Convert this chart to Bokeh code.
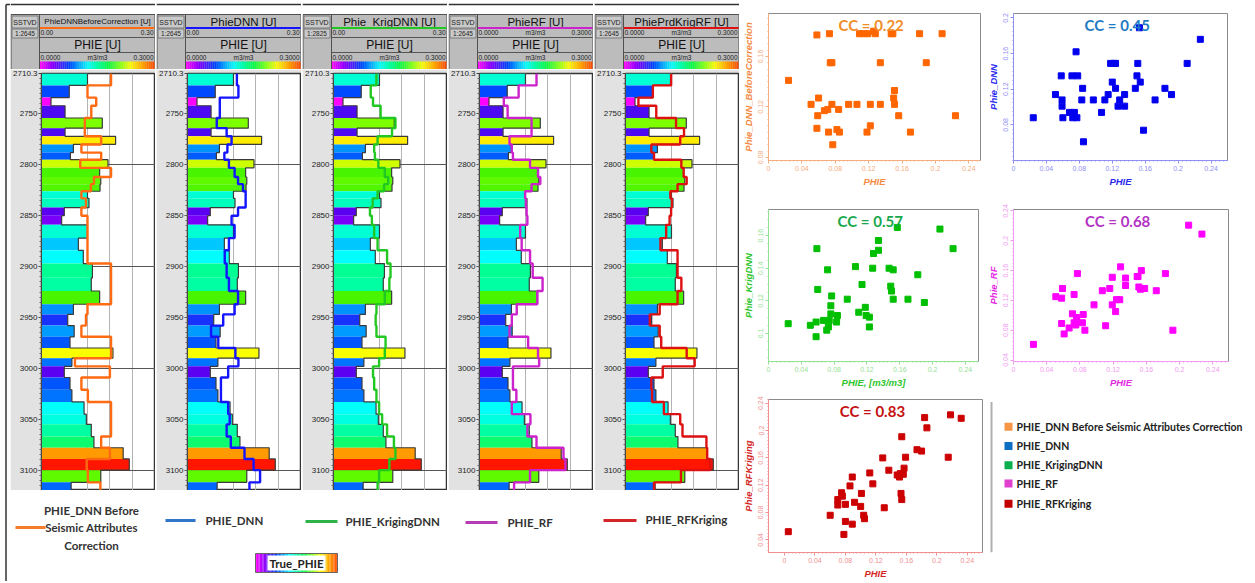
import numpy as np
from bokeh.plotting import figure
from bokeh.layouts import row, column
from bokeh.models import (Range1d, FixedTicker, LinearColorMapper, ColumnDataSource,
                          PrintfTickFormatter, Label)
from bokeh.core.properties import value
from bokeh.embed import file_html
from bokeh.resources import INLINE

# ------------------------------------------------------------------ data
depth_bounds = [2710.3, 2722, 2734, 2742, 2754, 2764, 2772, 2780, 2788, 2795, 2803,
                2812, 2819, 2826, 2833, 2842, 2850, 2859, 2872, 2884, 2897, 2911,
                2924, 2937, 2947, 2958, 2969, 2980, 2990, 2998, 3009, 3021, 3033,
                3045, 3055, 3067, 3078, 3089, 3100, 3112, 3120]
depth_ticks = [2710.3, 2750, 2800, 2850, 2900, 2950, 3000, 3050, 3100]

true_phie = [0.121, 0.073, 0.025, 0.062, 0.160, 0.062, 0.195, 0.084, 0.076, 0.175,
             0.153, 0.156, 0.154, 0.121, 0.125, 0.060, 0.053, 0.121, 0.097, 0.110,
             0.134, 0.131, 0.153, 0.084, 0.069, 0.086, 0.075, 0.188, 0.080, 0.060,
             0.075, 0.080, 0.112, 0.118, 0.131, 0.138, 0.215, 0.231, 0.156, 0.078]
phie_dnn_before = [0.183, 0.121, 0.144, 0.131, 0.114, 0.114, 0.157, 0.105, 0.157, 0.102,
                   0.183, 0.138, 0.130, 0.105, 0.117, 0.105, 0.121, 0.121, 0.121, 0.121,
                   0.183, 0.183, 0.183, 0.121, 0.117, 0.105, 0.183, 0.183, 0.088, 0.180,
                   0.105, 0.122, 0.183, 0.183, 0.183, 0.157, 0.180, 0.119, 0.122, 0.155]
phie_dnn = [0.130, 0.134, 0.085, 0.085, 0.077, 0.103, 0.116, 0.105, 0.097, 0.109,
            0.124, 0.133, 0.146, 0.153, 0.153, 0.133, 0.116, 0.124, 0.109, 0.098,
            0.103, 0.109, 0.133, 0.124, 0.094, 0.062, 0.081, 0.126, 0.134, 0.107,
            0.088, 0.088, 0.107, 0.111, 0.103, 0.114, 0.150, 0.174, 0.191, 0.163]
phie_krig_dnn = [0.113, 0.098, 0.104, 0.124, 0.163, 0.154, 0.116, 0.107, 0.109, 0.118,
                 0.135, 0.144, 0.133, 0.116, 0.103, 0.096, 0.101, 0.107, 0.116, 0.141,
                 0.150, 0.147, 0.135, 0.113, 0.111, 0.113, 0.137, 0.135, 0.120, 0.104,
                 0.107, 0.113, 0.120, 0.128, 0.141, 0.159, 0.163, 0.147, 0.120, 0.116]
phie_rf = [0.150, 0.103, 0.064, 0.074, 0.137, 0.137, 0.079, 0.085, 0.088, 0.133,
           0.154, 0.160, 0.137, 0.120, 0.122, 0.124, 0.126, 0.107, 0.111, 0.133,
           0.140, 0.166, 0.152, 0.098, 0.085, 0.079, 0.128, 0.154, 0.157, 0.088,
           0.088, 0.097, 0.085, 0.134, 0.126, 0.150, 0.221, 0.226, 0.133, 0.091]
phie_rf_krig = [0.120, 0.072, 0.034, 0.081, 0.133, 0.154, 0.144, 0.068, 0.075, 0.147,
                0.153, 0.161, 0.137, 0.118, 0.122, 0.120, 0.116, 0.107, 0.092, 0.137,
                0.137, 0.147, 0.137, 0.090, 0.064, 0.090, 0.094, 0.161, 0.182, 0.098,
                0.068, 0.070, 0.101, 0.144, 0.150, 0.213, 0.215, 0.223, 0.146, 0.075]

track_titles = ["PhieDNNBeforeCorrection [U]", "PhieDNN [U]", "Phie_KrigDNN [U]",
                "PhieRF [U]", "PhiePrdKrigRF [U]"]
track_scales = ["1:2645", "1:2645", "1:2825", "1:2645", "1:2645"]
track_lo = ["0.00", "0.00", "0.00", "0.0000", "0.0000"]
track_hi = ["0.30", "0.30", "0.30", "0.3000", "0.3000"]

s1_x = [0.126, 0.128, 0.109, 0.114, 0.119, 0.073, 0.058, 0.147, 0.149, 0.181, 0.208,
        0.074, 0.076, 0.134, 0.189, 0.024, 0.151, 0.060, 0.150,
        0.051, 0.076, 0.096, 0.106, 0.122, 0.134, 0.151, 0.067, 0.071, 0.084,
        0.059, 0.156, 0.224, 0.122, 0.058, 0.072, 0.082, 0.085, 0.118, 0.170, 0.077]
s1_y = [0.180, 0.178, 0.178, 0.178, 0.178, 0.178, 0.177, 0.178, 0.178, 0.178, 0.178,
        0.155, 0.155, 0.155, 0.155, 0.141, 0.133, 0.127, 0.127,
        0.122, 0.122, 0.122, 0.122, 0.122, 0.122, 0.122, 0.117, 0.118, 0.118,
        0.113, 0.113, 0.113, 0.105, 0.103, 0.100, 0.102, 0.100, 0.100, 0.100, 0.090]
s2_x = [0.153, 0.227, 0.076, 0.118, 0.122, 0.124, 0.151, 0.211, 0.058, 0.071, 0.078, 0.150,
        0.120, 0.154, 0.084, 0.124, 0.148, 0.184, 0.051, 0.115, 0.135, 0.192,
        0.059, 0.083, 0.097, 0.111, 0.129, 0.172, 0.059, 0.127, 0.135,
        0.068, 0.074, 0.107, 0.024, 0.060, 0.072, 0.077, 0.158, 0.085]
s2_y = [0.189, 0.176, 0.162, 0.149, 0.149, 0.149, 0.149, 0.149, 0.135, 0.135, 0.135, 0.135,
        0.128, 0.128, 0.121, 0.121, 0.121, 0.121, 0.114, 0.114, 0.114, 0.114,
        0.108, 0.108, 0.108, 0.108, 0.108, 0.108, 0.101, 0.101, 0.101,
        0.094, 0.094, 0.094, 0.088, 0.088, 0.088, 0.088, 0.074, 0.061]
s3_x = [0.157, 0.209, 0.059, 0.225, 0.134, 0.134, 0.128, 0.106, 0.127, 0.147, 0.152, 0.072,
        0.182, 0.060, 0.114, 0.149, 0.150, 0.077, 0.096, 0.152, 0.170, 0.190, 0.076,
        0.118, 0.110, 0.076, 0.119, 0.123, 0.084, 0.024, 0.051, 0.058, 0.067, 0.074,
        0.083, 0.073, 0.071, 0.123, 0.058]
s3_y = [0.165, 0.164, 0.152, 0.152, 0.157, 0.151, 0.149, 0.141, 0.140, 0.140, 0.139, 0.139,
        0.136, 0.127, 0.130, 0.129, 0.126, 0.123, 0.121, 0.121, 0.121, 0.119, 0.117,
        0.116, 0.113, 0.112, 0.111, 0.110, 0.111, 0.106, 0.105, 0.107, 0.108, 0.108,
        0.107, 0.104, 0.102, 0.104, 0.098]
s4_x = [0.211, 0.227, 0.129, 0.154, 0.077, 0.183, 0.119, 0.149, 0.150, 0.135, 0.135, 0.151,
        0.153, 0.158, 0.172, 0.107, 0.116, 0.059, 0.051, 0.058, 0.073, 0.124, 0.128,
        0.097, 0.119, 0.123, 0.071, 0.084, 0.076, 0.076, 0.076, 0.058, 0.073, 0.083,
        0.075, 0.067, 0.111, 0.086, 0.192, 0.061, 0.024]
s4_y = [0.221, 0.209, 0.165, 0.160, 0.156, 0.156, 0.151, 0.152, 0.152, 0.150, 0.140, 0.138,
        0.135, 0.136, 0.133, 0.133, 0.136, 0.136, 0.125, 0.123, 0.128, 0.121, 0.121,
        0.114, 0.114, 0.105, 0.102, 0.101, 0.097, 0.094, 0.091, 0.089, 0.090, 0.090,
        0.087, 0.083, 0.086, 0.080, 0.080, 0.075, 0.061]
s5_x = [0.005, 0.060, 0.078, 0.080, 0.089, 0.104, 0.105, 0.100, 0.131, 0.070, 0.080, 0.092,
        0.070, 0.076, 0.075, 0.101, 0.153, 0.154, 0.086, 0.089, 0.116, 0.112, 0.137,
        0.148, 0.151, 0.152, 0.156, 0.157, 0.129, 0.159, 0.174, 0.180, 0.154, 0.184,
        0.187, 0.218, 0.232, 0.215]
s5_y = [0.052, 0.076, 0.048, 0.067, 0.063, 0.076, 0.071, 0.089, 0.087, 0.091, 0.092, 0.095,
        0.099, 0.104, 0.109, 0.108, 0.108, 0.099, 0.119, 0.132, 0.122, 0.138, 0.142,
        0.135, 0.132, 0.137, 0.136, 0.145, 0.160, 0.161, 0.172, 0.170, 0.191, 0.219,
        0.204, 0.223, 0.218, 0.161]
cc_texts = ["CC = 0.22", "CC = 0.45", "CC = 0.57", "CC = 0.68", "CC = 0.83"]
scatter_ylabels = ["Phie_DNN_BeforeCorrection", "Phie_DNN", "Phie_KrigDNN", "Phie_RF",
                   "Phie_RFKriging"]
scatter_xlabels = ["PHIE", "PHIE", "PHIE, [m3/m3]", "PHIE", "PHIE"]
x_ticks = [0, 0.04, 0.08, 0.12, 0.16, 0.2, 0.24]

legend_names = ["PHIE_DNN Before Seismic Attributes Correction", "PHIE_DNN",
                "PHIE_KrigingDNN", "PHIE_RF", "PHIE_RFKriging"]

# ------------------------------------------------------------------ styles
ARIAL = value("Liberation Sans")
CAL = value("Lato")


def interp_palette(stops, n):
    sv = [s[0] for s in stops]
    rgb = np.array([[int(c[1:3], 16), int(c[3:5], 16), int(c[5:7], 16)] for _, c in stops], float)
    vals = np.linspace(sv[0], sv[-1], n)
    out = []
    for v in vals:
        r, g, b = (np.interp(v, sv, rgb[:, k]) for k in range(3))
        out.append("#%02x%02x%02x" % (int(round(r)), int(round(g)), int(round(b))))
    return out


bar_palette = interp_palette([(0.0, "#ff00ff"), (0.03, "#ff00ff"), (0.048, "#9000ff"),
                              (0.060, "#5a00f0"), (0.072, "#0046ff"), (0.085, "#0096ff"),
                              (0.100, "#00d4ff"), (0.110, "#00ffff"), (0.121, "#00ffd2"),
                              (0.134, "#00ff96"), (0.150, "#30f000"), (0.160, "#80ff00"),
                              (0.175, "#ccff00"), (0.190, "#ffff00"), (0.215, "#ffa000"),
                              (0.232, "#ff1000"), (0.25, "#ff0000")], 256)
bar_mapper = LinearColorMapper(palette=bar_palette, low=0.0, high=0.25)
strip_palette = interp_palette([(0.0, "#ff00ff"), (0.12, "#8000ff"), (0.25, "#0040ff"),
                                (0.42, "#00ffff"), (0.6, "#00ff40"), (0.8, "#ffff00"),
                                (1.0, "#ff5000")], 60)

curve_colors = ["#ff6a13", "#1414ff", "#22c822", "#cc22cc", "#dd1111"]
curves = [phie_dnn_before, phie_dnn, phie_krig_dnn, phie_rf, phie_rf_krig]

TW = 145      # track width
DW = 29       # depth column width
HH = 69       # header height
TH = 421      # track figure height (4px top border + 417 frame)


def bare(w, h):
    f = figure(width=w, height=h, x_range=Range1d(0, w), y_range=Range1d(h, 0),
               output_backend="svg", toolbar_location=None, min_border=0,
               x_axis_location=None, y_axis_location=None)
    f.grid.visible = False
    f.outline_line_color = None
    f.background_fill_color = "white"
    f.border_fill_color = "white"
    return f


def step_path(vals):
    xs, ys = [], []
    for i, v in enumerate(vals):
        xs += [v, v]
        ys += [depth_bounds[i], depth_bounds[i + 1]]
    return xs, ys


def header(i):
    h = bare(TW, HH)
    h.segment(x0=[0], y0=[4], x1=[TW], y1=[4], line_color="#333333", line_width=1.5)
    h.quad(left=0.5, right=TW - 0.5, top=14, bottom=HH, fill_color="#bcbcbc", line_color="#505050")
    h.quad(left=[1.5, 1.5], right=[DW - 1.5] * 2, top=[15.5, 28.5], bottom=[27.5, 37.5],
           fill_color="#c9c9c9", line_color="#7a7a7a")
    h.text(x=[DW / 2], y=[21.5], text=["SSTVD"], text_font=ARIAL, text_font_size="7px",
           text_align="center", text_baseline="middle", text_color="#222")
    h.text(x=[DW / 2], y=[33], text=[track_scales[i]], text_font=ARIAL, text_font_size="6.5px",
           text_align="center", text_baseline="middle", text_color="#222")
    mid = (DW + TW) / 2
    fs = "8px" if i == 0 else "11.5px"
    h.text(x=[mid], y=[21], text=[track_titles[i]], text_font=ARIAL, text_font_size=fs,
           text_align="center", text_baseline="middle", text_color="#111")
    h.segment(x0=[DW], y0=[27.5], x1=[TW - 1], y1=[27.5], line_color=curve_colors[i], line_width=2)
    h.text(x=[DW + 1], y=[32], text=[track_lo[i]], text_font=ARIAL, text_font_size="6.5px",
           text_align="left", text_baseline="middle", text_color="#222")
    h.text(x=[TW - 2], y=[32], text=[track_hi[i]], text_font=ARIAL, text_font_size="6.5px",
           text_align="right", text_baseline="middle", text_color="#222")
    if i >= 3:
        h.text(x=[mid], y=[32], text=["m3/m3"], text_font=ARIAL, text_font_size="6.5px",
               text_align="center", text_baseline="middle", text_color="#222")
    h.segment(x0=[DW, DW], y0=[37, 52], x1=[TW - 1, TW - 1], y1=[37, 52],
              line_color="#555", line_width=1)
    h.text(x=[mid], y=[44.5], text=["PHIE [U]"], text_font=ARIAL, text_font_size="12px",
           text_align="center", text_baseline="middle", text_color="#111")
    h.text(x=[DW + 1, mid, TW - 2], y=[56.5] * 3, text=["0.0000", "m3/m3", "0.3000"],
           text_font=ARIAL, text_font_size="6.5px", text_align=["left", "center", "right"],
           text_baseline="middle", text_color="#222")
    n = len(strip_palette)
    edges = np.linspace(DW, TW - 1, n + 1)
    h.quad(left=edges[:-1], right=edges[1:], top=[61] * n, bottom=[HH] * n,
           fill_color=strip_palette, line_color=None)
    h.segment(x0=[DW], y0=[14], x1=[DW], y1=[HH], line_color="#505050")
    return h


def track(i):
    p = figure(width=TW, height=TH, x_range=Range1d(0, 0.3), y_range=Range1d(3120, 2710.3),
               output_backend="svg", toolbar_location=None, x_axis_location=None,
               min_border_left=DW, min_border_right=0, min_border_top=4, min_border_bottom=0)
    p.border_fill_color = "#e2e2e2"
    p.background_fill_color = "white"
    p.outline_line_color = "#353535"
    p.outline_line_width = 1.5
    p.xgrid.ticker = FixedTicker(ticks=[0.12, 0.18, 0.24])
    p.xgrid.grid_line_color = "#b4b4b4"
    p.ygrid.ticker = FixedTicker(ticks=[2800, 2900, 3000, 3100])
    p.ygrid.grid_line_color = "#555555"
    ax = p.yaxis[0]
    ax.ticker = FixedTicker(ticks=depth_ticks, minor_ticks=list(np.arange(2715, 3120, 5)))
    ax.formatter = PrintfTickFormatter(format="%g")
    ax.major_label_text_font = "Liberation Sans"
    ax.major_label_text_font_size = "8px"
    ax.major_label_text_color = "#222"
    ax.major_label_standoff = 1
    ax.major_tick_in = 0
    ax.major_tick_out = 3
    ax.minor_tick_in = 0
    ax.minor_tick_out = 2
    ax.axis_line_color = "#444"
    ax.major_tick_line_color = "#444"
    ax.minor_tick_line_color = "#666"
    src = ColumnDataSource(dict(v=true_phie, top=depth_bounds[:-1], bot=depth_bounds[1:]))
    p.quad(left=0, right="v", top="top", bottom="bot", source=src,
           fill_color={"field": "v", "transform": bar_mapper}, line_color=None)
    ox, oy = step_path(true_phie)
    p.line(ox, oy, line_color="#3a3a3a", line_width=1.2)
    cx, cy = step_path(curves[i])
    p.line(cx, cy, line_color=curve_colors[i], line_width=2.4)
    return p


track_cols = [column(row(header(i)), row(track(i)), spacing=0) for i in range(5)]

# outer left border strip
strip = bare(10, 581)
strip.segment(x0=[5.5, 5.5], y0=[4, 4], x1=[5.5, 10], y1=[581, 4], line_color="#333333",
              line_width=1.5)

# bottom legend (local coords: x - 10, y - 490)
LGW = 5 * TW + 4
lg = bare(LGW, 91)
leg_line_cols = ["#f57c2a", "#2f75c8", "#2db34a", "#b63cb6", "#d2262a"]
lg.segment(x0=[5, 155, 295, 455, 593], y0=[37, 30, 31, 32, 30],
           x1=[35, 185, 327, 487, 626], y1=[37, 30, 31, 32, 30],
           line_color=leg_line_cols, line_width=3)
lg.text(x=[81, 81, 81], y=[20, 37, 55], text=["PHIE_DNN Before", "Seismic Attributes", "Correction"],
        text_font=CAL, text_font_size="11.5px", text_font_style="bold", text_align="center",
        text_baseline="middle", text_color="#333")
lg.text(x=[195, 335, 497, 635], y=[30, 31, 32, 29], text=legend_names[1:],
        text_font=CAL, text_font_size="11.5px", text_font_style="bold", text_align="left",
        text_baseline="middle", text_color="#333")
n = len(strip_palette)
edges = np.linspace(245, 327, n + 1)
lg.quad(left=edges[:-1], right=edges[1:], top=[63] * n, bottom=[82] * n,
        fill_color=strip_palette, line_color=None)
lg.quad(left=[245], right=[327], top=[63], bottom=[82], fill_color=None, line_color="#666")
lg.quad(left=[257], right=[315], top=[65], bottom=[80], fill_color="white", line_color=None)
lg.text(x=[286], y=[72.5], text=["True_PHIE"], text_font=CAL, text_font_size="11.5px",
        text_font_style="bold", text_align="center", text_baseline="middle", text_color="#222")

left = column(row(*track_cols, spacing=1), lg, spacing=0)


# ------------------------------------------------------------------ scatter
def scatter(x, y, k, marker_col, tick_col, lab_col, cc_col, xr, yr, yt, w, h, bl, br, bt, bb):
    p = figure(width=w, height=h, x_range=Range1d(*xr), y_range=Range1d(*yr),
               output_backend="svg", toolbar_location=None,
               min_border_left=bl, min_border_right=br, min_border_top=bt, min_border_bottom=bb)
    p.grid.visible = False
    p.outline_line_color = "#8a8a8a"
    p.background_fill_color = "white"
    p.scatter(x, y, marker="square", size=6, fill_color=marker_col, line_color=marker_col)
    p.xaxis.ticker = FixedTicker(ticks=x_ticks, minor_ticks=list(np.arange(0, 0.26, 0.005)))
    p.yaxis.ticker = FixedTicker(ticks=yt, minor_ticks=list(np.arange(0.02, 0.25, 0.005)))
    for ax in (p.xaxis[0], p.yaxis[0]):
        ax.formatter = PrintfTickFormatter(format="%g")
        ax.major_label_text_font = "Liberation Sans"
        ax.major_label_text_font_size = "7px"
        ax.major_label_text_color = tick_col
        ax.major_label_standoff = 2
        ax.axis_line_color = tick_col
        ax.major_tick_line_color = tick_col
        ax.minor_tick_line_color = tick_col
        ax.major_tick_in = 0
        ax.major_tick_out = 3
        ax.minor_tick_in = 0
        ax.minor_tick_out = 1
        ax.axis_label_text_font = "Liberation Sans"
        ax.axis_label_text_font_style = "bold italic"
        ax.axis_label_text_font_size = "9.5px"
        ax.axis_label_text_color = lab_col
        ax.axis_label_standoff = 2
    p.yaxis[0].major_label_orientation = "vertical"
    p.xaxis[0].axis_label = scatter_xlabels[k]
    p.yaxis[0].axis_label = scatter_ylabels[k]
    p.add_layout(Label(x=(xr[0] + xr[1]) / 2 - 0.004, y=yr[1] - (yr[1] - yr[0]) * 0.015,
                       text=cc_texts[k], text_align="center", text_baseline="top",
                       text_font="Lato", text_font_size="15px", text_font_style="bold",
                       text_color=cc_col))
    return p


yt_a = [0.08, 0.12, 0.16]
yt_b = [0.08, 0.12, 0.16, 0.2]
yt_c = [0.1, 0.12, 0.14, 0.16]
yt_d = [0.04, 0.08, 0.12, 0.16, 0.2, 0.24]

s1 = scatter(s1_x, s1_y, 0, "#ff6600", "#f6ad80", "#f58a45", "#f28c28",
             (0, 0.254), (0.0775, 0.194), yt_a, 245, 183, 24, 4, 7, 22)
s2 = scatter(s2_x, s2_y, 1, "#0000ee", "#8f8ff5", "#2a2aee", "#1f7bc4",
             (0, 0.26), (0.04, 0.205), yt_b, 268, 183, 23, 25, 6, 21)
s3 = scatter(s3_x, s3_y, 2, "#00bf00", "#94e394", "#2fc52f", "#17a84e",
             (0, 0.256), (0.0828, 0.176), yt_c, 245, 201, 22, 6, 20, 27)
s4 = scatter(s4_x, s4_y, 3, "#ff00ff", "#f29af2", "#e22ae2", "#b233c4",
             (0, 0.259), (0.038, 0.242), yt_d, 268, 201, 19, 24, 18, 22)
s5 = scatter(s5_x, s5_y, 4, "#cc0000", "#f09090", "#d42828", "#c41010",
             (-0.021, 0.26), (0.0215, 0.2455), yt_d, 245, 191, 26, 2, 9, 25)

# top border band over the scatter panel
band = bare(245 + 268, 6)
band.segment(x0=[0], y0=[4], x1=[245 + 268], y1=[4], line_color="#333333", line_width=1.5)

# right legend (local coords: x - 984, y - 390)
rl = bare(268, 191)
rl.segment(x0=[7], y0=[3], x1=[7], y1=[191], line_color="#b0b0b0", line_width=2)
sq_cols = ["#f79646", "#0b6fc4", "#0ab04c", "#e040d0", "#c00000"]
ly = [34, 58, 82, 105, 130]
rl.scatter(x=[24] * 5, y=ly, marker="square", size=8, fill_color=sq_cols, line_color=None)
rl.text(x=[32] * 5, y=ly, text=legend_names, text_font=CAL, text_font_size="10.5px",
        text_font_style="bold", text_align="left", text_baseline="middle", text_color="#222")

right = column(band, row(s1, s2, spacing=0), row(s3, s4, spacing=0), row(s5, rl, spacing=0),
               spacing=0)

layout = row(strip, left, right, spacing=0)
open("out.html", "w").write(file_html(layout, INLINE))
